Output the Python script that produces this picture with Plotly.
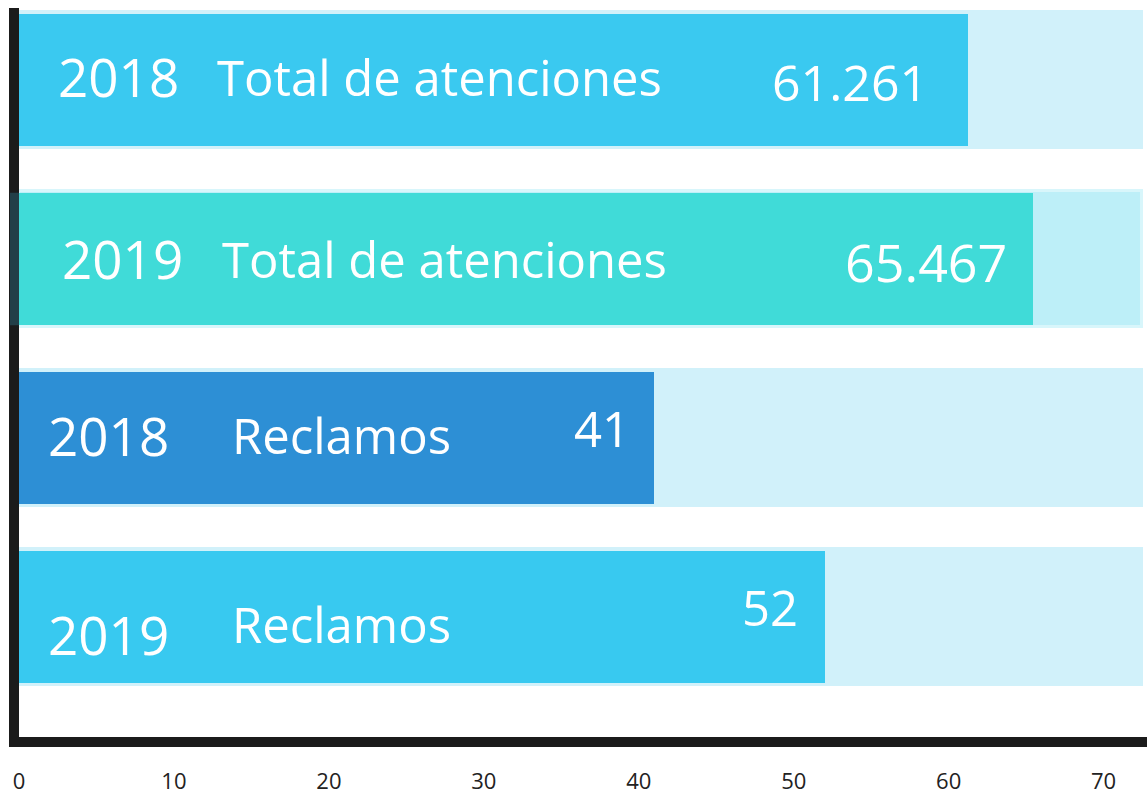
import plotly.graph_objects as go

years = ["2018", "2019", "2018", "2019"]
labels = ["Total de atenciones", "Total de atenciones", "Reclamos", "Reclamos"]
values = [61.261, 65.467, 41, 52]
value_text = ["61.261", "65.467", "41", "52"]
track_max = 72.5
tick_vals = [0, 10, 20, 30, 40, 50, 60, 70]
tick_text = ["0", "10", "20", "30", "40", "50", "60", "70"]

bar_colors = ["#3AC9F0", "#40DBD8", "#2D8FD5", "#38C9F0"]
track_colors = ["#D1F1FA", "#BDEFF8", "#D1F1FA", "#D1F1FA"]
track_lines = ["#D1F1FA", "#D8F6FB", "#D1F1FA", "#D1F1FA"]

pos = list(range(len(values)))
W = 1147
H = 795
PL = 19          # plot left edge
PW = W - PL      # plot width

fig = go.Figure()
fig.add_trace(go.Bar(
    y=pos, x=[track_max] * len(values), orientation="h",
    marker=dict(color=track_colors, line=dict(color=track_lines, width=3)),
    width=0.76, hoverinfo="skip", showlegend=False,
))
fig.add_trace(go.Bar(
    y=pos, x=values, orientation="h",
    marker=dict(color=bar_colors, line=dict(width=0)),
    width=0.74, showlegend=False,
))

font_main = "Open Sans"
year_px = [118, 122, 108, 108]
year_dy = [-3, -1, -3, 17]
label_px = [215, 220, 230, 230]
label_dy = [-3, 0, -3, 7]
value_dy = [2, 2, -10, -10]
value_gap = [38, 24, 22, 25]
value_size = [50, 52, 49, 49]

for i in pos:
    fig.add_annotation(x=(year_px[i] - PL) / PW, xref="paper", y=i, yref="y",
                       text=years[i], showarrow=False, xanchor="center", yshift=-year_dy[i],
                       font=dict(family=font_main, size=53, color="white"))
    fig.add_annotation(x=(label_px[i] - PL) / PW, xref="paper", y=i, yref="y",
                       text=labels[i], showarrow=False, xanchor="left", yshift=-label_dy[i],
                       font=dict(family=font_main, size=49, color="white"))
    fig.add_annotation(x=values[i], xref="x", y=i, yref="y",
                       text=value_text[i], showarrow=False, xanchor="right",
                       xshift=-value_gap[i], yshift=-value_dy[i],
                       font=dict(family=font_main, size=value_size[i], color="white"))

# dark sliver on axis next to the highlighted bar
fig.add_shape(type="rect", xref="paper", yref="y", x0=-9 / PW, x1=0,
              y0=1 - 0.37, y1=1 + 0.37, fillcolor="#223F48", line=dict(width=0), layer="above")

fig.update_layout(
    width=W, height=H,
    margin=dict(l=PL, r=0, t=8, b=58, autoexpand=False),
    paper_bgcolor="white", plot_bgcolor="white",
    barmode="overlay", bargap=0,
    xaxis=dict(range=[0, 72.8], tickvals=tick_vals, ticktext=tick_text, automargin=False,
               showgrid=False, zeroline=False, showline=True, linecolor="#1B1B1B",
               linewidth=10, ticks="", ticklabelstandoff=16,
               tickfont=dict(family="Open Sans", size=22, color="#222222")),
    yaxis=dict(range=[3.67, -0.402], showticklabels=False, showgrid=False, automargin=False,
               zeroline=False, showline=True, linecolor="#1B1B1B", linewidth=10, ticks=""),
)

fig.write_html(
    "out.html",
    config={"displayModeBar": False},
    post_script="document.body.style.margin='0';document.body.style.overflow='hidden';",
)
